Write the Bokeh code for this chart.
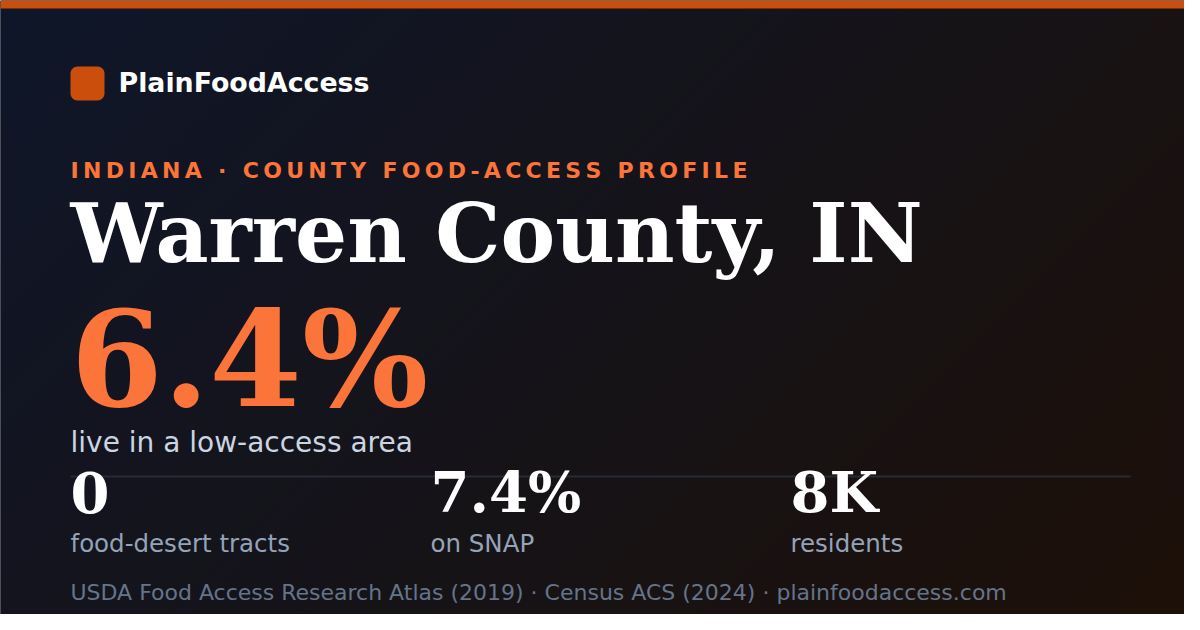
import numpy as np
from bokeh.plotting import figure
from bokeh.models import Range1d
from bokeh.core.properties import value
from bokeh.embed import file_html
from bokeh.resources import INLINE

# ---- data ----
brand = "PlainFoodAccess"
eyebrow = "INDIANA · COUNTY FOOD-ACCESS PROFILE"
county_name = "Warren County, IN"
low_access_pct = "6.4%"
headline_label = "live in a low-access area"
stat_values = ["0", "7.4%", "8K"]
stat_labels = ["food-desert tracts", "on SNAP", "residents"]
source_line = "USDA Food Access Research Atlas (2019) · Census ACS (2024) · plainfoodaccess.com"

# ---- layout (reference pixel coords, y downward) ----
W, H = 1200, 630
PW, PH = W - 16, H - 16

def Y(y):
    return H - y

def base(y, fs):
    # place text so that its alphabetic baseline lands on reference y
    return Y(y - (0.39 * fs - 0.7))

p = figure(width=PW, height=PH, output_backend="svg",
           toolbar_location=None, x_range=Range1d(0, PW),
           y_range=Range1d(Y(PH), Y(0)), min_border=0)
p.axis.visible = False
p.grid.visible = False
p.outline_line_color = None
p.background_fill_color = "#141418"
p.border_fill_color = "#141418"

# background gradient (135deg: navy -> dark brown)
rows, cols = 126, 240
c0 = np.array([15, 23, 42], dtype=float)
c1 = np.array([29, 16, 8], dtype=float)
xs = (np.arange(cols) + 0.5) / cols * W
ys_ref = H - (np.arange(rows) + 0.5) / rows * H  # row 0 at bottom
XX, YY = np.meshgrid(xs, ys_ref)
t = ((XX - W / 2) + (YY - H / 2)) / (W + H) + 0.5
t = np.clip(t, 0, 1)[..., None]
rgb = c0 * (1 - t) + c1 * t
img = np.empty((rows, cols), dtype=np.uint32)
view = img.view(dtype=np.uint8).reshape((rows, cols, 4))
view[..., 0] = rgb[..., 0].astype(np.uint8)
view[..., 1] = rgb[..., 1].astype(np.uint8)
view[..., 2] = rgb[..., 2].astype(np.uint8)
view[..., 3] = 255
p.image_rgba(image=[img], x=-2, y=0, dw=W + 4, dh=H)

ORANGE_DARK = "#cc4e0c"
ORANGE = "#fb7439"

# top accent bar
p.quad(left=0, right=W, bottom=Y(8), top=Y(0), fill_color=ORANGE_DARK, line_color=None)

# logo rounded square
def rounded_rect(x0, y0, x1, y1, r, n=8):
    px, py = [], []
    corners = [(x1 - r, y0 + r, -90, 0), (x1 - r, y1 - r, 0, 90),
               (x0 + r, y1 - r, 90, 180), (x0 + r, y0 + r, 180, 270)]
    for cx, cy, a0, a1 in corners:
        for a in np.linspace(np.radians(a0), np.radians(a1), n):
            px.append(cx + r * np.cos(a))
            py.append(Y(cy + r * np.sin(a)))
    return px, py

lx, ly = rounded_rect(70, 66, 104, 100, 7)
p.patch(lx, ly, fill_color=ORANGE_DARK, line_color=None)

SANS = value("DejaVu Sans")
SERIF = value("DejaVu Serif")

fs = 26.8
p.text(x=[118], y=[base(92, fs)], text=[brand], text_font=SANS, text_font_style="bold",
       text_font_size=f"{fs}px", text_color="#ffffff", text_baseline="alphabetic")

# eyebrow with letter spacing (per character using DejaVu Sans Bold advances)
adv = {"I": .372, "N": .837, "D": .830, "A": .774, " ": .348, "·": .380,
       "C": .734, "O": .850, "U": .812, "T": .682, "Y": .724, "F": .683,
       "-": .415, "E": .683, "S": .720, "P": .733, "R": .770, "L": .637}
fs = 22
spacing = 4.3
cx = 70.0
ch_x, ch_t = [], []
for ch in eyebrow:
    ch_x.append(cx)
    ch_t.append(ch)
    cx += adv.get(ch, 0.7) * fs + spacing
p.text(x=ch_x, y=[base(178, fs)] * len(ch_x), text=ch_t, text_font=SANS, text_font_style="bold",
       text_font_size=f"{fs}px", text_color=ORANGE, text_baseline="alphabetic")

fs = 82
p.text(x=[70], y=[base(264, fs)], text=[county_name], text_font=SERIF, text_font_style="bold",
       text_font_size=f"{fs}px", text_color="#ffffff", text_baseline="alphabetic")

fs = 133
p.text(x=[70], y=[base(410, fs)], text=[low_access_pct], text_font=SERIF, text_font_style="bold",
       text_font_size=f"{fs}px", text_color=ORANGE, text_baseline="alphabetic")

fs = 28
p.text(x=[70], y=[base(452, fs)], text=[headline_label], text_font=SANS,
       text_font_size=f"{fs}px", text_color="#cbd5e1", text_baseline="alphabetic")

# divider
p.segment(x0=[70], y0=[Y(476)], x1=[1130], y1=[Y(476)], line_color="#262b35", line_width=2)

col_x = [70, 430, 790]
fs = 56
p.text(x=col_x, y=[base(513, fs)] * 3, text=stat_values, text_font=SERIF, text_font_style="bold",
       text_font_size=f"{fs}px", text_color="#ffffff", text_baseline="alphabetic")
fs = 24.5
p.text(x=col_x, y=[base(552, fs)] * 3, text=stat_labels, text_font=SANS,
       text_font_size=f"{fs}px", text_color="#94a3b8", text_baseline="alphabetic")

fs = 22
p.text(x=[70], y=[base(600, fs)], text=[source_line], text_font=SANS,
       text_font_size=f"{fs}px", text_color="#64748b", text_baseline="alphabetic")

open("out.html", "w").write(file_html(p, INLINE))
